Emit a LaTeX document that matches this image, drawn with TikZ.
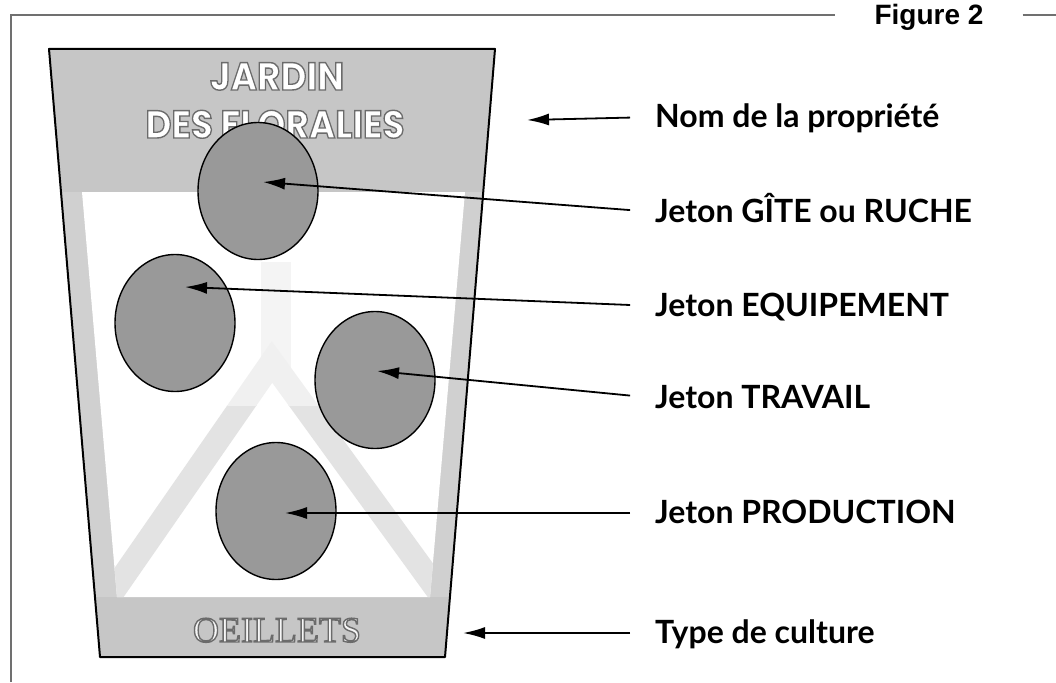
\documentclass[tikz,border=0pt]{standalone}
\usepackage{fontspec}
\usetikzlibrary{shapes.geometric,arrows.meta}

\newfontfamily\labelfont{Lato}
\newfontfamily\cardfont{Poppins}
\newfontfamily\figfont{Liberation Sans}
\newfontfamily\culturefont{Liberation Serif}

\definecolor{rulegray}{HTML}{707070}
\definecolor{bandgray}{HTML}{C6C6C6}
\definecolor{sidegray}{HTML}{D0D0D0}
\definecolor{vgray}{HTML}{E3E3E3}
\definecolor{jetongray}{HTML}{999999}

% hollow letters: white fill, grey stroke (text render mode 2)
\newcommand{\hollow}[1]{\special{pdf:literal direct 0.42 G 1.4 w 2 Tr}#1\special{pdf:literal direct 0 Tr}}

\tikzset{
  legend/.style={anchor=base west, inner sep=0pt, text height=20pt, text depth=0pt,
    font=\labelfont\bfseries\fontsize{32}{36}\selectfont},
  jeton/.style={ellipse, draw, line width=1.4pt, fill=jetongray,
    minimum width=120pt, minimum height=137pt, inner sep=0pt},
  pointer/.style={-{Latex[length=22pt,width=12pt]}, line width=1.8pt, shorten <=25pt},
  figlabel/.style={inner xsep=39pt, inner ysep=0pt, text height=20pt, text depth=0pt,
    font=\figfont\bfseries\fontsize{28}{32}\selectfont},
  gardenname/.style={inner sep=0pt, text height=28pt, text depth=0pt, text=white,
    font=\cardfont\fontsize{39}{44}\selectfont},
  cropname/.style={inner sep=0pt, text height=24pt, text depth=0pt, text=white!85!bandgray,
    font=\culturefont\fontsize{36}{40}\selectfont},
}

\begin{document}
\begin{tikzpicture}[x=1pt,y=-1pt]
\useasboundingbox (0,0) rectangle (1056,682);

% Frame with figure number
\node[figlabel] (fig) at (929,15) {Figure 2};
\draw[rulegray, line width=2pt] (11,682) -- (11,15) -- (fig.west);
\draw[rulegray, line width=2pt] (fig.east) -- (1056,15);

% Card corners
\coordinate (ctl) at (49,49);
\coordinate (ctr) at (495,49);
\coordinate (cbr) at (445,657);
\coordinate (cbl) at (100,657);

% Card background
\fill[sidegray] (ctl) -- (ctr) -- (cbr) -- (cbl) -- cycle;
\begin{scope}
  \clip (ctl) -- (ctr) -- (cbr) -- (cbl) -- cycle;
  \fill[bandgray] (0,49) rectangle (500,192);
  \fill[bandgray] (0,597) rectangle (500,657);
\end{scope}
\fill[white] (82,192) -- (465,192) -- (430,597) -- (117,597) -- cycle;
\begin{scope}
  \clip (82,192) -- (465,192) -- (430,597) -- (117,597) -- cycle;
  \draw[vgray!40, line width=30pt] (276,262) -- (276,380);
  \begin{scope}
    \clip (0,405) rectangle (500,700);
    \draw[vgray, line width=24pt] (100,610) -- (272,362) -- (452,610);
  \end{scope}
  \begin{scope}
    \clip (0,300) rectangle (500,405);
    \draw[vgray!55, line width=24pt] (100,610) -- (272,362) -- (452,610);
  \end{scope}
\end{scope}

% Property name and crop type
\node[gardenname] (jardin) at (277,76) {\scalebox{0.92}[1]{\bfseries\hollow{JARDIN}}};
\node[gardenname] (floralies) at (275,124) {\scalebox{0.92}[1]{\bfseries\hollow{DES FLORALIES}}};
\node[cropname] (oeillets) at (277,630) {\hollow{OEILLETS}};

\draw[line width=2pt, line join=round] (ctl) -- (ctr) -- (cbr) -- (cbl) -- cycle;

% Tokens
\node[jeton] (jgite) at (258,191) {};
\node[jeton] (jequip) at (175,323) {};
\node[jeton] (jtravail) at (375,380) {};
\node[jeton] (jprod) at (276,511) {};

% Arrow tips
\coordinate (tnom) at (527,120);
\coordinate (tgite) at (263,182);
\coordinate (tequip) at (185,287);
\coordinate (ttravail) at (377,371);
\coordinate (tprod) at (285,513);
\coordinate (tculture) at (463,633);

% Legend
\node[legend] (lnom) at (655,127) {Nom de la propriété};
\node[legend] (lgite) at (655,222) {Jeton GÎTE ou RUCHE};
\node[legend] (lequip) at (655,316) {Jeton EQUIPEMENT};
\node[legend] (ltravail) at (655,408) {Jeton TRAVAIL};
\node[legend] (lprod) at (655,523) {Jeton PRODUCTION};
\node[legend] (lculture) at (655,643) {Type de culture};

\draw[pointer] (lnom.west) -- (tnom);
\draw[pointer] (lgite.west) -- (tgite);
\draw[pointer] (lequip.west) -- (tequip);
\draw[pointer] (ltravail.west) -- (ttravail);
\draw[pointer] (lprod.west) -- (tprod);
\draw[pointer] (lculture.west) -- (tculture);
\end{tikzpicture}
\end{document}
